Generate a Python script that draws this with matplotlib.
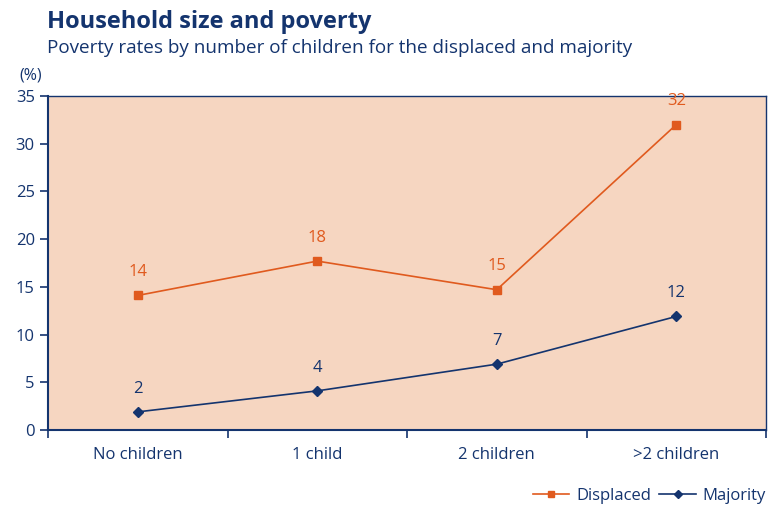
import matplotlib
matplotlib.use("Agg")
import matplotlib.pyplot as plt
from matplotlib.ticker import FixedLocator

plt.rcParams['font.family'] = ['Open Sans', 'DejaVu Sans']

categories = ["No children", "1 child", "2 children", ">2 children"]
displaced = [14.1, 17.7, 14.7, 32.0]
majority = [1.9, 4.1, 6.9, 11.9]
displaced_labels = ["14", "18", "15", "32"]
majority_labels = ["2", "4", "7", "12"]
yticks = [0, 5, 10, 15, 20, 25, 30, 35]

navy = "#14346e"
orange = "#e05a1e"
peach = "#f6d6c1"

fig = plt.figure(figsize=(7.84, 5.24), dpi=100)
ax = fig.add_axes([48/784, 1-430/524, (766-48)/784, (430-96)/524])
ax.set_facecolor(peach)

x = list(range(len(categories)))
ax.plot(x, displaced, color=orange, lw=1.2, marker="s", ms=6, label="Displaced", zorder=3)
ax.plot(x, majority, color=navy, lw=1.2, marker="D", ms=5, label="Majority", zorder=3)

for xi, v, t in zip(x, displaced, displaced_labels):
    ax.annotate(t, (xi, v), xytext=(0, 11), textcoords="offset points",
                ha="center", va="bottom", color=orange, fontsize=12)
for xi, v, t in zip(x, majority, majority_labels):
    ax.annotate(t, (xi, v), xytext=(0, 11), textcoords="offset points",
                ha="center", va="bottom", color=navy, fontsize=12)

ax.set_xlim(-0.5, 3.5)
ax.set_ylim(0, 35)
ax.set_yticks(yticks)
ax.set_xticks(x)
ax.set_xticklabels(categories)
ax.xaxis.set_minor_locator(FixedLocator([-0.5, 0.5, 1.5, 2.5, 3.5]))
ax.tick_params(axis="x", which="major", length=0, pad=12, labelsize=12, labelcolor=navy)
ax.tick_params(axis="x", which="minor", length=6, width=1.2, color=navy, direction="out")
ax.tick_params(axis="y", length=6, width=1.2, color=navy, labelsize=12, labelcolor=navy, direction="out")
for s in ax.spines.values():
    s.set_color(navy)
    s.set_linewidth(1.5)
ax.spines["top"].set_linewidth(1.0)
ax.spines["right"].set_linewidth(1.0)

fig.text(47/784, 1-22/524, "Household size and poverty", fontsize=17, fontweight="bold",
         color=navy, va="center", ha="left")
fig.text(47/784, 1-48/524, "Poverty rates by number of children for the displaced and majority",
         fontsize=13.6, color=navy, va="center", ha="left")
fig.text(31/784, 1-75/524, "(%)", fontsize=11.5, color=navy, va="center", ha="center")

leg = fig.legend(loc="center right", bbox_to_anchor=(781/784, 1-496/524), ncol=2, frameon=False,
                 fontsize=12, handlelength=2.2, columnspacing=0.5, handletextpad=0.4, markerscale=0.8)
for t in leg.get_texts():
    t.set_color(navy)

fig.savefig("out.png", dpi=100)
